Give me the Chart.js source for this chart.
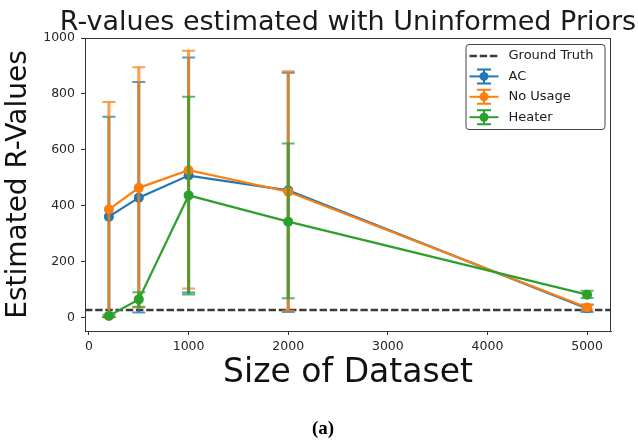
<!DOCTYPE html>
<html>
<head>
<meta charset="utf-8">
<script src="https://cdn.jsdelivr.net/npm/chart.js@4.4.0/dist/chart.umd.min.js"></script>
<style>
  html, body { margin: 0; padding: 0; background: #fff; }
  #wrap { position: relative; width: 638px; height: 444px; }
</style>
</head>
<body>
<div id="wrap"><canvas id="rValuesChart"></canvas></div>
<script>
// data
const datasetSizes = [200, 500, 1000, 2000, 5000];
const acValues = [361, 429, 508, 455, 33];
const acLow = [2, 18, 90, 20, 20];
const acHigh = [718, 843, 930, 876, 47];
const noUsageValues = [387, 464, 527, 450, 36];
const noUsageLow = [0, 36, 104, 24, 28];
const noUsageHigh = [771, 895, 954, 881, 44];
const heaterValues = [6, 65, 437, 343, 82];
const heaterLow = [2, 39, 83, 69, 70];
const heaterHigh = [10, 91, 790, 623, 96];
const groundTruth = 27;
const xTicks = [0, 1000, 2000, 3000, 4000, 5000];
const yTicks = [0, 200, 400, 600, 800, 1000];
const xMin = -40, xMax = 5240;

const font = "DejaVu Sans";
const toPoints = (xs, ys) => xs.map((x, i) => ({ x: x, y: ys[i] }));

// error bars, drawn under each series' line and markers
const errorBars = {
    id: 'errorBars',
    beforeDatasetDraw(chart, args) {
        const ds = chart.data.datasets[args.index];
        if (!ds.errLow) return;
        const ctx = chart.ctx;
        const xs = chart.scales.x, ys = chart.scales.y;
        ctx.save();
        ctx.strokeStyle = ds.borderColor;
        ctx.globalAlpha = 0.75;
        ds.data.forEach((p, i) => {
            const px = xs.getPixelForValue(p.x);
            const lo = ys.getPixelForValue(ds.errLow[i]);
            const hi = ys.getPixelForValue(ds.errHigh[i]);
            ctx.lineWidth = 3;
            ctx.beginPath();
            ctx.moveTo(px, lo);
            ctx.lineTo(px, hi);
            ctx.stroke();
            ctx.lineWidth = 2;
            ctx.beginPath();
            ctx.moveTo(px - 6.5, lo); ctx.lineTo(px + 6.5, lo);
            ctx.moveTo(px - 6.5, hi); ctx.lineTo(px + 6.5, hi);
            ctx.stroke();
        });
        ctx.restore();
    }
};

// frame, title, legend box and caption
const figureDecor = {
    id: 'figureDecor',
    afterDraw(chart) {
        const ctx = chart.ctx;
        const a = chart.chartArea;
        ctx.save();
        ctx.strokeStyle = '#333';
        ctx.lineWidth = 1;
        ctx.strokeRect(a.left + 0.5, a.top + 0.5, a.right - a.left - 1, a.bottom - a.top);

        ctx.fillStyle = '#1a1a1a';
        ctx.font = "27px '" + font + "'";
        ctx.textAlign = 'center';
        ctx.textBaseline = 'alphabetic';
        ctx.fillText('R-values estimated with Uninformed Priors', (a.left + a.right) / 2, 29.5);

        ctx.font = "bold 19px 'Liberation Serif'";
        ctx.fillStyle = '#000';
        ctx.fillText('(a)', 323, 434);

        // legend
        const bx = a.right - 145, by = a.top + 6.5, bw = 139, bh = 85;
        ctx.fillStyle = '#fff';
        ctx.strokeStyle = '#444';
        ctx.lineWidth = 1;
        ctx.beginPath();
        ctx.roundRect(bx, by, bw, bh, 3);
        ctx.fill();
        ctx.stroke();

        const items = chart.data.datasets;
        items.forEach((ds, i) => {
            const cy = by + 11.5 + i * 20.4;
            const hx0 = bx + 3.5, hx1 = bx + 32.5, hc = (hx0 + hx1) / 2;
            ctx.strokeStyle = ds.borderColor;
            ctx.lineWidth = ds.errLow ? 2 : 2.6;
            if (ds.borderDash) ctx.setLineDash(ds.borderDash);
            ctx.beginPath();
            ctx.moveTo(hx0, cy); ctx.lineTo(hx1, cy);
            ctx.stroke();
            ctx.setLineDash([]);
            if (ds.errLow) {
                ctx.beginPath();
                ctx.moveTo(hc, cy - 7); ctx.lineTo(hc, cy + 7);
                ctx.moveTo(hc - 7, cy - 7); ctx.lineTo(hc + 7, cy - 7);
                ctx.moveTo(hc - 7, cy + 7); ctx.lineTo(hc + 7, cy + 7);
                ctx.stroke();
                ctx.fillStyle = ds.borderColor;
                ctx.beginPath();
                ctx.arc(hc, cy, 4.5, 0, Math.PI * 2);
                ctx.fill();
            }
            ctx.fillStyle = '#1a1a1a';
            ctx.font = "13px '" + font + "'";
            ctx.textAlign = 'left';
            ctx.textBaseline = 'middle';
            ctx.fillText(ds.label, bx + 42.5, cy);
        });
        ctx.restore();
    }
};

function seriesDataset(label, color, values, low, high, order) {
    return {
        label: label,
        data: toPoints(datasetSizes, values),
        errLow: low,
        errHigh: high,
        borderColor: color,
        backgroundColor: color,
        borderWidth: 2.2,
        pointRadius: 5,
        pointBorderWidth: 0,
        pointBackgroundColor: color,
        order: order
    };
}

const ctxRValues = document.getElementById("rValuesChart");
new Chart(ctxRValues, {
    type: 'line',
    data: {
        datasets: [
            {
                label: 'Ground Truth',
                data: [{ x: xMin, y: groundTruth }, { x: xMax, y: groundTruth }],
                borderColor: '#3a3a3a',
                borderDash: [7.4, 2.8],
                borderWidth: 2.6,
                pointRadius: 0,
                order: 4
            },
            seriesDataset('AC', '#1f77b4', acValues, acLow, acHigh, 3),
            seriesDataset('No Usage', '#ff7f0e', noUsageValues, noUsageLow, noUsageHigh, 2),
            seriesDataset('Heater', '#2ca02c', heaterValues, heaterLow, heaterHigh, 1)
        ]
    },
    options: {
        responsive: true,
        maintainAspectRatio: false,
        animation: false,
        layout: { padding: { top: 38, right: 27, bottom: 50.6, left: 0 } },
        plugins: {
            legend: { display: false },
            tooltip: { enabled: false },
            title: { display: false }
        },
        scales: {
            x: {
                type: 'linear',
                min: xMin,
                max: xMax,
                afterBuildTicks: axis => { axis.ticks = xTicks.map(v => ({ value: v })); },
                afterFit: axis => { axis.height = 62.4; },
                ticks: {
                    callback: v => String(v),
                    font: { family: font, size: 12.5 },
                    color: '#262626',
                    padding: 4.5,
                    maxRotation: 0
                },
                grid: { drawOnChartArea: false, drawTicks: true, tickLength: 4, tickColor: '#333' },
                border: { display: true, color: '#333', width: 1 },
                title: {
                    display: true,
                    text: 'Size of Dataset',
                    font: { family: font, size: 33 },
                    color: '#111',
                    padding: { top: 0, bottom: 0 }
                }
            },
            y: {
                type: 'linear',
                min: -48,
                max: 1000,
                afterBuildTicks: axis => { axis.ticks = yTicks.map(v => ({ value: v })); },
                afterFit: axis => { axis.width = 85; },
                ticks: {
                    callback: v => String(v),
                    font: { family: font, size: 12.5 },
                    color: '#262626',
                    padding: 6
                },
                grid: { drawOnChartArea: false, drawTicks: true, tickLength: 4, tickColor: '#333' },
                border: { display: true, color: '#333', width: 1 },
                title: {
                    display: true,
                    text: 'Estimated R-Values',
                    font: { family: font, size: 28 },
                    color: '#111',
                    padding: { top: 1.5, bottom: 0 }
                }
            }
        }
    },
    plugins: [errorBars, figureDecor]
});
</script>
</body>
</html>
